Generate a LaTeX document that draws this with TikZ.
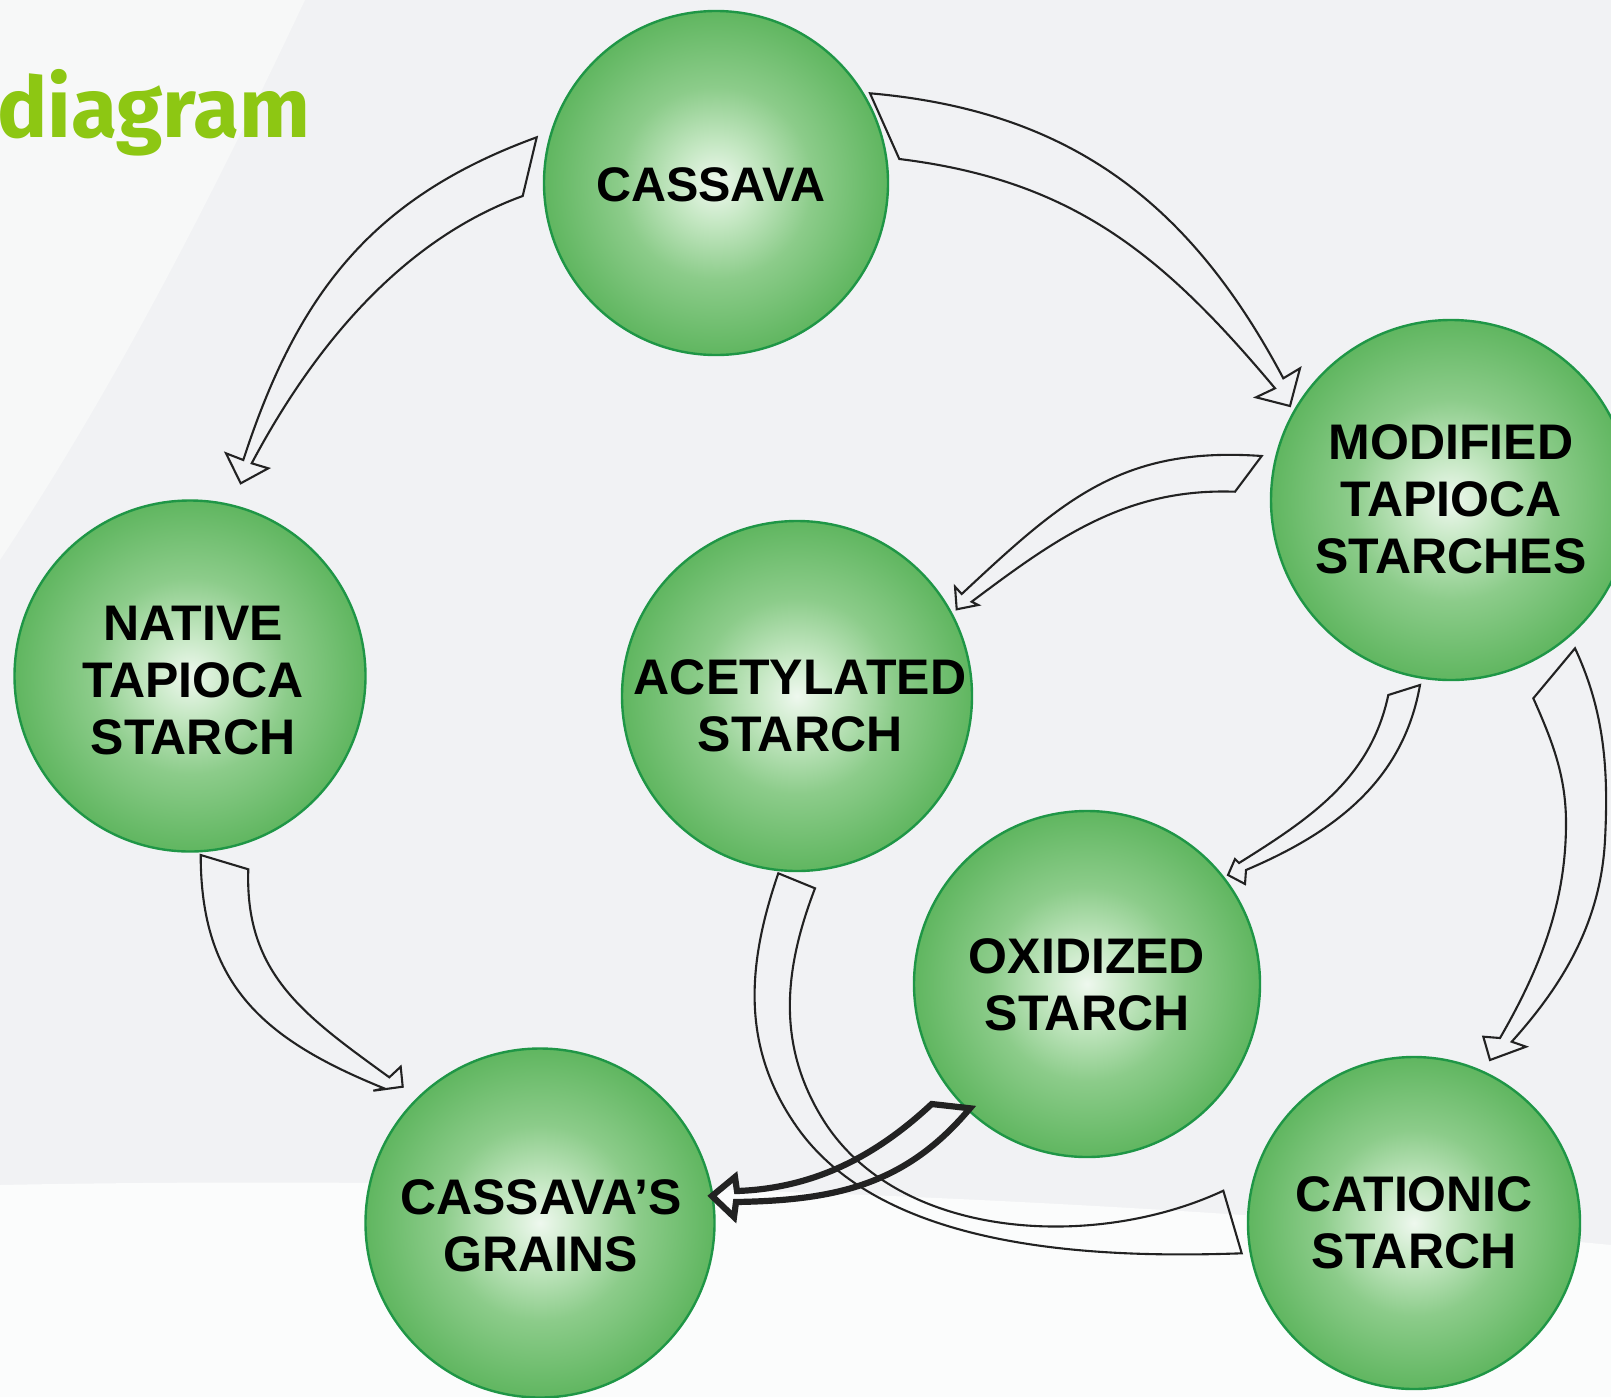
\documentclass[tikz,border=0pt]{standalone}
\usepackage{fontspec}
\setmainfont{Liberation Sans}
\newfontfamily\titlefont{Fira Sans}
\usetikzlibrary{calc}
\definecolor{bgcol}{HTML}{F1F2F4}
\definecolor{bglight}{HTML}{F7F8F8}
\definecolor{bgwhite}{HTML}{FBFCFC}
\definecolor{titlegreen}{HTML}{8DC713}
\definecolor{ringgreen}{HTML}{1F9646}
\definecolor{gc0}{HTML}{EEF8EE}
\definecolor{gc1}{HTML}{C4E7C2}
\definecolor{gc2}{HTML}{8CCC8A}
\definecolor{gc3}{HTML}{60B660}
\definecolor{arrowcol}{HTML}{222222}
\pgfdeclareradialshading{greenball}{\pgfpoint{0bp}{0bp}}{color(0bp)=(gc0); color(6bp)=(gc1); color(14bp)=(gc2); color(25bp)=(gc3); color(50bp)=(gc3)}
\begin{document}
\begin{tikzpicture}[x=1pt,y=-1pt,
  ball/.style={circle, draw=ringgreen, line width=2.4pt, shading=greenball, minimum size=#1, inner sep=0pt},
  lbl/.style={inner sep=0pt, align=center, text=black, font=\bfseries\fontsize{50}{57}\selectfont},
  thinarrow/.style={draw=arrowcol, line width=2.1pt, line join=miter},
  boldarrow/.style={draw=arrowcol, line width=6.2pt, line join=miter}]
\useasboundingbox (0,0) rectangle (1611,1397);
\clip (0,0) rectangle (1611,1397);
% background
\fill[bgcol] (0,0) rectangle (1611,1397);
\fill[bglight] (0,0) -- (305,0) .. controls (220,180) and (120,380) .. (0,560) -- cycle;
\fill[bgwhite] (0,1185) .. controls (500,1175) and (1100,1195) .. (1611,1245) -- (1611,1397) -- (0,1397) -- cycle;
% title
\node[anchor=base west, inner sep=0pt, text=titlegreen, font=\titlefont\bfseries\fontsize{84}{84}\selectfont] (title) at (-3,137) {diagram};
% circles
\node[ball=344pt] (cassava) at (716,183) {};
\node[ball=360pt] (modified) at (1451,500) {};
\node[ball=351pt] (native) at (190,676) {};
\node[ball=350pt] (acetylated) at (797,696) {};
\node[ball=346pt] (oxidized) at (1087,984) {};
\node[ball=349pt] (grains) at (540,1223) {};
\node[ball=332pt] (cationic) at (1414,1223) {};
% labels
\node[lbl, font=\bfseries\fontsize{48.5}{55}\selectfont] (tcassava) at (711,185) {CASSAVA};
\node[lbl] (tmodified) at (1451,499) {MODIFIED\\TAPIOCA\\STARCHES};
\node[lbl] (tnative) at (193,681) {NATIVE\\TAPIOCA\\STARCH};
\node[lbl] (tacetylated) at (800,706) {ACETYLATED\\STARCH};
\node[lbl] (toxidized) at (1087,985) {OXIDIZED\\STARCH};
\node[lbl] (tgrains) at (541,1226) {CASSAVA’S\\GRAINS};
\node[lbl] (tcationic) at (1414,1223) {CATIONIC\\STARCH};
% arrow: cassava -> native
\draw[thinarrow] (536.7,137.3) .. controls (372.2,197.2) and (297.4,293.6) .. (243.3,460)
  -- (226,453.3) -- (240.7,483.3) -- (268.3,468.3) -- (251.7,463.3)
  .. controls (312.7,348.5) and (400.5,240.5) .. (522.7,196) -- cycle;
% arrow: cassava -> modified
\draw[thinarrow] (870,93.3) .. controls (1069.2,110.7) and (1189.5,201.7) .. (1283.3,378.3)
  -- (1300,368.3) -- (1290,406) -- (1256,397.3) -- (1275,388.3)
  .. controls (1162.5,254.2) and (1073.1,180.4) .. (899.3,159) -- cycle;
% arrow: modified -> acetylated
\draw[thinarrow] (1261.7,456) .. controls (1122.1,446.2) and (1064,498.5) .. (961.7,594)
  -- (955,586.7) -- (956.7,609.3) -- (978.3,605) -- (971.7,601.7)
  .. controls (1058,536.7) and (1127.1,487.9) .. (1235,491.7) -- cycle;
% arrow: modified -> oxidized
\draw[thinarrow] (1420,685) .. controls (1403.1,780.5) and (1335.3,832.1) .. (1246,870)
  -- (1245,884) -- (1228,875) -- (1235,859) -- (1239,863)
  .. controls (1311.1,817.9) and (1370.6,778.1) .. (1388.3,695) -- cycle;
% arrow: modified -> cationic
\draw[thinarrow] (1575,648.3) .. controls (1604.6,711.7) and (1608.6,770.1) .. (1605,840)
  .. controls (1600.8,919.9) and (1565.2,982.3) .. (1511.7,1041.7)
  -- (1526,1046.7) -- (1490,1060) -- (1483.3,1036.7) -- (1500,1038)
  .. controls (1540,968.7) and (1566,903) .. (1566,823)
  .. controls (1566,776) and (1552.4,741.2) .. (1533.3,698.3) -- cycle;
% arrow: native -> grains
\draw[thinarrow] (200.7,855) .. controls (200.7,985) and (263.5,1039.5) .. (384,1088.3)
  -- (373.3,1090.7) -- (402.7,1086.7) -- (400.7,1066.7) -- (389.3,1077.3)
  .. controls (304.4,1015.6) and (244.6,974.2) .. (248.3,869.3) -- cycle;
% band: acetylated -- cationic
\draw[thinarrow] (778.3,873.3) .. controls (746.7,965.1) and (741,1047.3) .. (796.7,1126.7)
  .. controls (882.8,1249.6) and (1091.9,1258.6) .. (1241.7,1253.3)
  -- (1223.3,1190.7)
  .. controls (1094.6,1250.8) and (898.6,1240.4) .. (823.3,1120)
  .. controls (776.7,1045.4) and (783.5,970.5) .. (815,888.3) -- cycle;
% bold arrow: oxidized -> grains
\draw[boldarrow] (931.7,1104) .. controls (875.4,1156.5) and (813.9,1188.3) .. (737,1191)
  -- (735,1177) -- (712,1196) -- (734,1217) -- (736,1202)
  .. controls (836,1200.3) and (905.7,1184.9) .. (970,1108.3) -- cycle;
\end{tikzpicture}
\end{document}
